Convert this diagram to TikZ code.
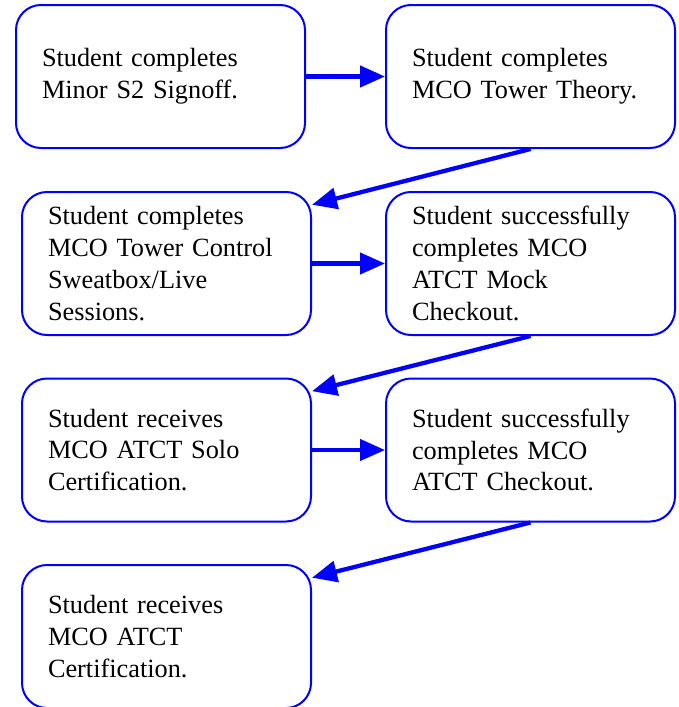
\documentclass[tikz,border=0pt]{standalone}
\usepackage{fontspec}
\setmainfont{Liberation Serif}
\usetikzlibrary{arrows.meta}
\tikzset{
  stepbox/.style={draw=blue, line width=2pt, rounded corners=25pt, minimum width=289pt, minimum height=143pt,
    text width=237pt, inner xsep=26pt, inner ysep=0pt, align=left,
    font=\fontsize{26.3pt}{31.8pt}\selectfont},
  flow/.style={draw=blue, line width=4.3pt, -{Triangle[length=25pt,width=21pt]}, blue}
}
\begin{document}
\begin{tikzpicture}[x=1pt,y=-1pt]
\useasboundingbox (0,0) rectangle (678,707);
\node[stepbox] (st1) at (160.5,76.5){Student completes\\Minor S2 Signoff.};
\node[stepbox] (st2) at (530.5,76.5){Student completes\\MCO Tower Theory.};
\node[stepbox] (st3) at (166.5,263.5){Student completes\\MCO Tower Control\\Sweatbox/Live\\Sessions.};
\node[stepbox] (st4) at (530.5,263.5){Student successfully\\completes MCO\\ATCT Mock\\Checkout.};
\node[stepbox] (st5) at (166.5,450){Student receives\\MCO ATCT Solo\\Certification.};
\node[stepbox] (st6) at (530.5,450){Student successfully\\completes MCO\\ATCT Checkout.};
\node[stepbox] (st7) at (166.5,636.5){Student receives\\MCO ATCT\\Certification.};
\draw[flow] (st1) -- (st2);
\draw[flow] (st2.south) -- (st3.22);
\draw[flow] (st3) -- (st4);
\draw[flow] (st4.south) -- (st5.22);
\draw[flow] (st5) -- (st6);
\draw[flow] (st6.south) -- (st7.22);
\end{tikzpicture}
\end{document}
